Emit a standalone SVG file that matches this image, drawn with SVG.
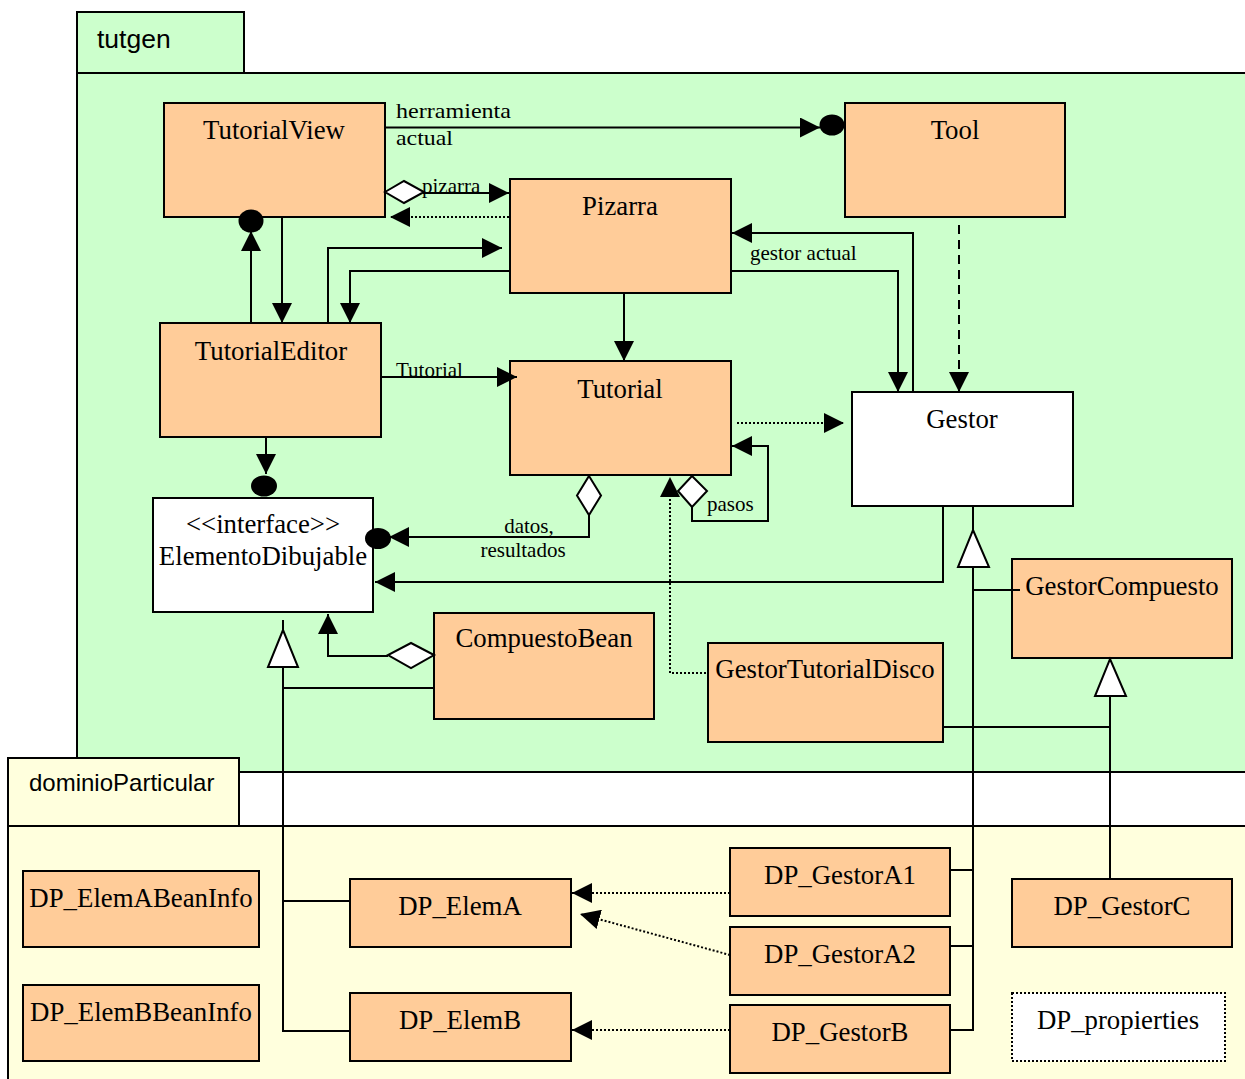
<svg xmlns="http://www.w3.org/2000/svg" width="1245" height="1079" viewBox="0 0 1245 1079">
<style>
.pkg{stroke:#000;stroke-width:2}
.ptxt{font-family:"Liberation Sans",Arial,sans-serif;fill:#000}
.box{fill:#FFCC99;stroke:#000;stroke-width:2}
.wbox{fill:#FFFFFF;stroke:#000;stroke-width:2}
.nm{font-family:"Liberation Serif","Times New Roman",serif;font-size:26.8px;fill:#000}
.lbl{font-family:"Liberation Serif","Times New Roman",serif;font-size:21px;fill:#000}
.c{fill:none;stroke:#000;stroke-width:2}
.dot{stroke-dasharray:2,2}
.dash{stroke-dasharray:9,6}
.hollow{fill:#FFFFFF;stroke:#000;stroke-width:2}
.ball{fill:#000}
</style>
<defs>
<marker id="arr" markerUnits="userSpaceOnUse" markerWidth="20" markerHeight="20" refX="20" refY="10" orient="auto" viewBox="0 0 20 20">
<path d="M0,0 L20,10 L0,20 z" fill="#000"/>
</marker>
</defs>

<g id="pkg-tutgen">
<rect class="pkg" x="77" y="12" width="167" height="61" fill="#CCFFCC"/>
<rect class="pkg" x="77" y="73" width="1175" height="699" fill="#CCFFCC"/>
<text class="ptxt" x="97" y="48" font-size="26.5">tutgen</text>
</g>
<g id="pkg-dominioParticular">
<rect class="pkg" x="8" y="826" width="1244" height="260" fill="#FFFFDD"/>
<rect class="pkg" x="8" y="758" width="231" height="68" fill="#FFFFDD"/>
<text class="ptxt" x="29" y="791" font-size="24">dominioParticular</text>
</g>

<g id="TutorialView"><rect class="box" x="164" y="103" width="221" height="114"/><text class="nm" x="274" y="139" text-anchor="middle">TutorialView</text></g>
<g id="Tool"><rect class="box" x="845" y="103" width="220" height="114"/><text class="nm" x="955" y="139" text-anchor="middle">Tool</text></g>
<g id="Pizarra"><rect class="box" x="510" y="179" width="221" height="114"/><text class="nm" x="620" y="215" text-anchor="middle">Pizarra</text></g>
<g id="TutorialEditor"><rect class="box" x="160" y="323" width="221" height="114"/><text class="nm" x="271" y="360" text-anchor="middle">TutorialEditor</text></g>
<g id="Tutorial"><rect class="box" x="510" y="361" width="221" height="114"/><text class="nm" x="620" y="398" text-anchor="middle">Tutorial</text></g>
<g id="Gestor"><rect class="wbox" x="852" y="392" width="221" height="114"/><text class="nm" x="962" y="428" text-anchor="middle">Gestor</text></g>
<g id="ElementoDibujable"><rect class="wbox" x="153" y="498" width="220" height="114"/><text class="nm" x="263" y="533" text-anchor="middle">&lt;&lt;interface&gt;&gt;</text><text class="nm" x="263" y="565" text-anchor="middle">ElementoDibujable</text></g>
<g id="CompuestoBean"><rect class="box" x="434" y="613" width="220" height="106"/><text class="nm" x="544" y="647" text-anchor="middle">CompuestoBean</text></g>
<g id="GestorTutorialDisco"><rect class="box" x="708" y="643" width="235" height="99"/><text class="nm" x="825" y="678" text-anchor="middle">GestorTutorialDisco</text></g>
<g id="GestorCompuesto"><rect class="box" x="1012" y="559" width="220" height="99"/><text class="nm" x="1122" y="595" text-anchor="middle">GestorCompuesto</text></g>
<g id="DP_ElemABeanInfo"><rect class="box" x="23" y="871" width="236" height="76"/><text class="nm" x="141" y="907" text-anchor="middle">DP_ElemABeanInfo</text></g>
<g id="DP_ElemBBeanInfo"><rect class="box" x="23" y="985" width="236" height="76"/><text class="nm" x="141" y="1021" text-anchor="middle">DP_ElemBBeanInfo</text></g>
<g id="DP_ElemA"><rect class="box" x="350" y="879" width="221" height="68"/><text class="nm" x="460" y="915" text-anchor="middle">DP_ElemA</text></g>
<g id="DP_ElemB"><rect class="box" x="350" y="993" width="221" height="68"/><text class="nm" x="460" y="1029" text-anchor="middle">DP_ElemB</text></g>
<g id="DP_GestorA1"><rect class="box" x="730" y="848" width="220" height="68"/><text class="nm" x="840" y="884" text-anchor="middle">DP_GestorA1</text></g>
<g id="DP_GestorA2"><rect class="box" x="730" y="927" width="220" height="68"/><text class="nm" x="840" y="963" text-anchor="middle">DP_GestorA2</text></g>
<g id="DP_GestorB"><rect class="box" x="730" y="1005" width="220" height="68"/><text class="nm" x="840" y="1041" text-anchor="middle">DP_GestorB</text></g>
<g id="DP_GestorC"><rect class="box" x="1012" y="879" width="220" height="68"/><text class="nm" x="1122" y="915" text-anchor="middle">DP_GestorC</text></g>
<g id="DP_propierties"><rect x="1012" y="993" width="213" height="68" fill="#FFFFFF" stroke="#000" stroke-width="2" stroke-dasharray="2,2"/><text class="nm" x="1118" y="1029" text-anchor="middle">DP_propierties</text></g>

<g id="connectors">
<!-- TutorialView -> Tool -->
<path class="c" d="M385,127.5 H820" marker-end="url(#arr)"/>
<ellipse class="ball" cx="832" cy="125" rx="12.5" ry="10.5"/>
<text class="lbl" x="396" y="118" font-size="23" textLength="115" lengthAdjust="spacingAndGlyphs">herramienta</text>
<text class="lbl" x="396" y="145" font-size="23" textLength="57" lengthAdjust="spacingAndGlyphs">actual</text>
<!-- pizarra -->
<path class="c" d="M423,193 H509" marker-end="url(#arr)"/>
<polygon class="hollow" points="385,192 404,181 424,192 404,203"/>
<text class="lbl" x="422" y="193">pizarra</text>
<path class="c dot" d="M509,217 H390" marker-end="url(#arr)"/>
<!-- TutorialEditor <-> TutorialView -->
<path class="c" d="M251,323 V231" marker-end="url(#arr)"/>
<ellipse class="ball" cx="251" cy="221" rx="12.5" ry="11.5"/>
<path class="c" d="M282,218 V323" marker-end="url(#arr)"/>
<!-- TutorialEditor <-> Pizarra -->
<path class="c" d="M328,323 V248 H502" marker-end="url(#arr)"/>
<path class="c" d="M510,271 H350 V323" marker-end="url(#arr)"/>
<!-- TutorialEditor -> Tutorial -->
<path class="c" d="M381,377 H517" marker-end="url(#arr)"/>
<text class="lbl" x="396" y="377">Tutorial</text>
<!-- Pizarra -> Tutorial -->
<path class="c" d="M624,294 V361" marker-end="url(#arr)"/>
<!-- Gestor -> Pizarra -->
<path class="c" d="M913,392 V233 H732" marker-end="url(#arr)"/>
<!-- Pizarra -> Gestor -->
<path class="c" d="M731,271 H898 V392" marker-end="url(#arr)"/>
<text class="lbl" x="750" y="260">gestor actual</text>
<!-- Tool -> Gestor -->
<path class="c dash" d="M959,225 V392" marker-end="url(#arr)"/>
<!-- Tutorial -> Gestor -->
<path class="c dot" d="M737,423 H844" marker-end="url(#arr)"/>
<!-- pasos -->
<path class="c" d="M692,507 V521 H768 V446 H732" marker-end="url(#arr)"/>
<polygon class="hollow" points="692,476 707,491 692,507 678,491"/>
<text class="lbl" x="707" y="511">pasos</text>
<!-- datos, resultados -->
<path class="c" d="M589,515 V537 H389" marker-end="url(#arr)"/>
<polygon class="hollow" points="589,476 601,495.5 589,515 577,495.5"/>
<ellipse class="ball" cx="378" cy="538.5" rx="13" ry="10.5"/>
<text class="lbl" x="529" y="533" text-anchor="middle">datos,</text>
<text class="lbl" x="523" y="557" text-anchor="middle">resultados</text>
<!-- Gestor -> ElementoDibujable -->
<path class="c" d="M943,507 V582 H375" marker-end="url(#arr)"/>
<!-- TutorialEditor -> ElementoDibujable -->
<path class="c" d="M266,438 V474" marker-end="url(#arr)"/>
<ellipse class="ball" cx="264" cy="486" rx="13" ry="10.5"/>
<!-- CompuestoBean -> ElementoDibujable -->
<path class="c" d="M388,656 H328 V614" marker-end="url(#arr)"/>
<polygon class="hollow" points="434,655 411,643 388,655 411,668"/>
<!-- generalization to ElementoDibujable -->
<path class="c" d="M283,620 V630"/>
<path class="c" d="M283,667 V1031 H350"/>
<path class="c" d="M283,901 H350"/>
<path class="c" d="M283,688 H434"/>
<polygon class="hollow" points="283,630 298,667 268,667"/>
<!-- generalization to Gestor -->
<path class="c" d="M973,507 V530"/>
<path class="c" d="M973,567 V1030 H950"/>
<path class="c" d="M973,590 H1020"/>
<path class="c" d="M950,870 H973"/>
<path class="c" d="M950,946 H973"/>
<path class="c" d="M943,727 H1110"/>
<polygon class="hollow" points="973,530 989,567 958,567"/>
<!-- generalization to GestorCompuesto -->
<path class="c" d="M1110,696 V879"/>
<polygon class="hollow" points="1110,659 1126,696 1095,696"/>
<!-- DP gestors -> DP elems -->
<path class="c dot" d="M730,893 H572" marker-end="url(#arr)"/>
<path class="c dot" d="M730,955 L580,914" marker-end="url(#arr)"/>
<path class="c dot" d="M730,1030 H572" marker-end="url(#arr)"/>
<!-- GestorTutorialDisco -> Tutorial -->
<path class="c dot" d="M706,673 H670 V477" marker-end="url(#arr)"/>
</g>
</svg>
